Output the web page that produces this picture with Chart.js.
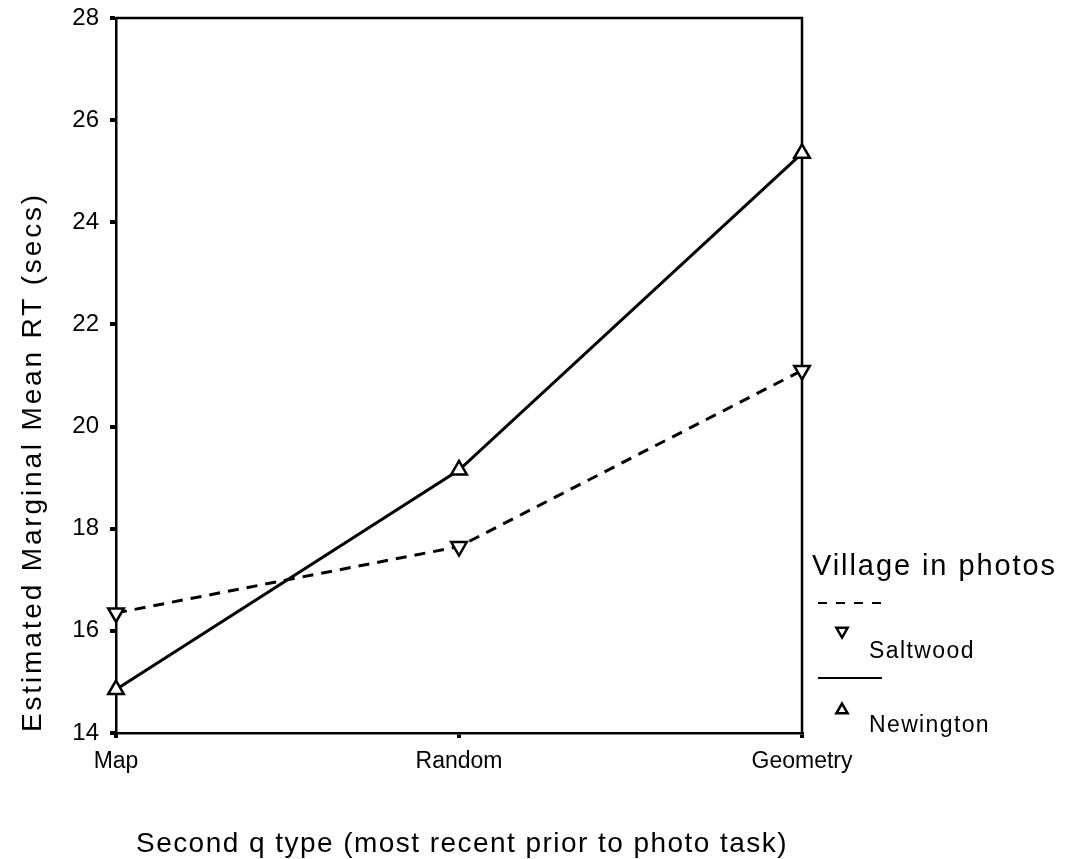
<!DOCTYPE html>
<html>
<head>
<meta charset="utf-8">
<script src="https://cdn.jsdelivr.net/npm/chart.js@4.4.1/dist/chart.umd.min.js"></script>
<style>
  html, body { margin: 0; padding: 0; background: #fff; }
  #wrap { width: 1066px; height: 859px; position: relative; }
</style>
</head>
<body>
<div id="wrap"><canvas id="chart"></canvas></div>
<script>
// values
const categories = ['Map', 'Random', 'Geometry'];
const saltwood = [16.35, 17.65, 21.1];
const newington = [14.85, 19.15, 25.35];
const yTicks = [14, 16, 18, 20, 22, 24, 26, 28];

const FONT = '"Liberation Sans", Arial, sans-serif';

// draw text stretched to a given width (the scan has wide letter spacing)
function fitText(ctx, text, x, y, width) {
  ctx.letterSpacing = '0px';
  const w = ctx.measureText(text).width;
  const sp = Math.max(0, (width - w) / text.length);
  ctx.letterSpacing = sp + 'px';
  ctx.fillText(text, x, y);
  ctx.letterSpacing = '0px';
}

function triangle(ctx, x, y, r, down) {
  const s = down ? -1 : 1;
  ctx.save();
  ctx.beginPath();
  ctx.moveTo(x, y - s * r);
  ctx.lineTo(x + r * 0.866, y + s * r / 2);
  ctx.lineTo(x - r * 0.866, y + s * r / 2);
  ctx.closePath();
  ctx.fillStyle = '#fff';
  ctx.fill();
  ctx.stroke();
  ctx.restore();
}

const decor = {
  id: 'decor',
  beforeDatasetsDraw(chart) {
    const { ctx, chartArea: a } = chart;
    ctx.save();
    ctx.strokeStyle = '#000';
    ctx.lineWidth = 2.5;
    ctx.beginPath();
    ctx.moveTo(a.left, a.top);
    ctx.lineTo(a.right, a.top);
    ctx.lineTo(a.right, a.bottom);
    ctx.stroke();
    ctx.restore();
  },
  afterDraw(chart) {
    const { ctx } = chart;
    ctx.save();
    ctx.fillStyle = '#000';
    ctx.strokeStyle = '#000';
    ctx.textBaseline = 'alphabetic';
    ctx.textAlign = 'left';

    // axis titles
    ctx.font = '28px ' + FONT;
    fitText(ctx, 'Second q type (most recent prior to photo task)', 136, 852, 652);
    ctx.save();
    ctx.translate(41, 732);
    ctx.rotate(-Math.PI / 2);
    fitText(ctx, 'Estimated Marginal Mean RT (secs)', 0, 0, 540);
    ctx.restore();

    // legend
    ctx.font = '29px ' + FONT;
    fitText(ctx, 'Village in photos', 812, 575, 245);
    ctx.lineWidth = 2;
    ctx.setLineDash([9, 9]);
    ctx.beginPath();
    ctx.moveTo(818, 603);
    ctx.lineTo(882, 603);
    ctx.stroke();
    ctx.setLineDash([]);
    ctx.beginPath();
    ctx.moveTo(818, 678);
    ctx.lineTo(882, 678);
    ctx.stroke();
    ctx.lineWidth = 2.5;
    triangle(ctx, 842, 631, 6.5, true);
    triangle(ctx, 842, 710, 6.5, false);
    ctx.fillStyle = '#000';
    ctx.font = '23px ' + FONT;
    fitText(ctx, 'Saltwood', 869, 658, 106);
    fitText(ctx, 'Newington', 869, 732, 121);
    ctx.restore();
  }
};

new Chart(document.getElementById('chart'), {
  type: 'line',
  data: {
    labels: categories,
    datasets: [
      {
        label: 'Saltwood',
        data: saltwood,
        borderColor: '#000',
        borderWidth: 3,
        borderDash: [11, 8],
        pointStyle: 'triangle',
        rotation: 180,
        pointRadius: 9,
        pointBorderWidth: 2.5,
        pointBackgroundColor: '#fff',
        pointBorderColor: '#000',
        tension: 0,
      },
      {
        label: 'Newington',
        data: newington,
        borderColor: '#000',
        borderWidth: 3,
        pointStyle: 'triangle',
        pointRadius: 9,
        pointBorderWidth: 2.5,
        pointBackgroundColor: '#fff',
        pointBorderColor: '#000',
        tension: 0,
      },
    ],
  },
  options: {
    responsive: true,
    maintainAspectRatio: false,
    animation: false,
    layout: { padding: { left: 0, top: 18, right: 264, bottom: 0 } },
    plugins: { legend: { display: false }, tooltip: { enabled: false } },
    scales: {
      x: {
        type: 'category',
        offset: false,
        afterFit(scale) { scale.height = 126; },
        grid: { drawOnChartArea: false, tickLength: 5, lineWidth: 4, color: '#000' },
        border: { display: true, color: '#000', width: 2.5 },
        ticks: { font: { family: FONT, size: 23 }, color: '#000', padding: 10, maxRotation: 0 },
      },
      y: {
        min: 14,
        max: 28,
        afterFit(scale) { scale.width = 116; },
        afterBuildTicks(scale) { scale.ticks = yTicks.map(v => ({ value: v })); },
        grid: { drawOnChartArea: false, tickLength: 6, lineWidth: 4, color: '#000' },
        border: { display: true, color: '#000', width: 2.5 },
        ticks: { font: { family: FONT, size: 24, lineHeight: 0.5 }, color: '#000', padding: 11 },
      },
    },
  },
  plugins: [decor],
});
</script>
</body>
</html>
